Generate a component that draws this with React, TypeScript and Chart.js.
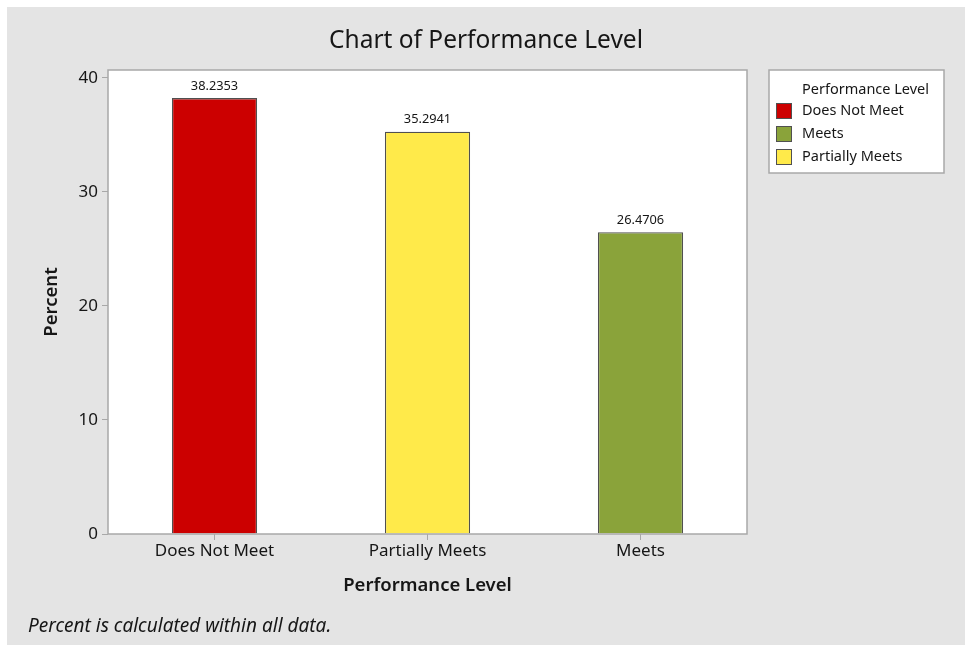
import React, { useEffect, useRef } from "react";
import { Chart, registerables } from "chart.js";

Chart.register(...registerables);

const categories = ["Does Not Meet", "Partially Meets", "Meets"];
const percents = [38.2353, 35.2941, 26.4706];
const barColors = ["#cc0000", "#ffea4a", "#8aa33a"];
const valueLabels = ["38.2353", "35.2941", "26.4706"];
const legendItems = ["Does Not Meet", "Meets", "Partially Meets"];
const legendColors = ["#cc0000", "#8aa33a", "#ffea4a"];
const yTicks = [0, 10, 20, 30, 40];

const FONT = "'Noto Sans', 'Open Sans', sans-serif";
const BG = "#e4e4e4";
const INK = "#161616";
const W = 958;
const H = 638;

const frame = {
  id: "frame",
  beforeDraw(chart: any) {
    const { ctx, chartArea: a } = chart;
    ctx.save();
    ctx.fillStyle = BG;
    ctx.fillRect(0, 0, chart.width, chart.height);
    ctx.fillStyle = "#ffffff";
    ctx.fillRect(a.left, a.top, a.right - a.left, a.bottom - a.top);
    ctx.restore();
  },
  afterDraw(chart: any) {
    const { ctx, chartArea: a } = chart;
    ctx.save();
    // plot outline
    ctx.strokeStyle = "#a8a8a8";
    ctx.lineWidth = 1.5;
    ctx.strokeRect(a.left, a.top, a.right - a.left, a.bottom - a.top);

    // title
    ctx.fillStyle = INK;
    ctx.textAlign = "center";
    ctx.textBaseline = "middle";
    ctx.font = `24.5px ${FONT}`;
    ctx.fillText("Chart of Performance Level", chart.width / 2, 34);

    // axis titles
    ctx.font = `600 18.5px ${FONT}`;
    ctx.fillText("Performance Level", (a.left + a.right) / 2, 579);
    ctx.save();
    ctx.translate(45, (a.top + a.bottom) / 2);
    ctx.rotate(-Math.PI / 2);
    ctx.fillText("Percent", 0, 0);
    ctx.restore();

    // footnote
    ctx.textAlign = "left";
    ctx.font = `italic 19px ${FONT}`;
    ctx.fillText("Percent is calculated within all data.", 21, 620);

    // value labels above bars
    const meta = chart.getDatasetMeta(0);
    ctx.textAlign = "center";
    ctx.font = `12.8px ${FONT}`;
    meta.data.forEach((bar: any, i: number) => {
      ctx.fillText(valueLabels[i], bar.x, bar.y - 12);
    });

    // legend box
    const lx = 762, ly = 63, lw = 175, lh = 103;
    ctx.fillStyle = "#ffffff";
    ctx.fillRect(lx, ly, lw, lh);
    ctx.strokeStyle = "#a8a8a8";
    ctx.lineWidth = 1.5;
    ctx.strokeRect(lx, ly, lw, lh);
    ctx.fillStyle = INK;
    ctx.font = `14.5px ${FONT}`;
    ctx.textAlign = "left";
    ctx.fillText("Performance Level", 795, 83);
    legendItems.forEach((label, i) => {
      const cy = 104 + i * 23;
      ctx.fillStyle = legendColors[i];
      ctx.fillRect(769, cy - 8, 16, 16);
      ctx.strokeStyle = "#505050";
      ctx.lineWidth = 1;
      ctx.strokeRect(769.5, cy - 7.5, 15, 15);
      ctx.fillStyle = INK;
      ctx.fillText(label, 795, cy);
    });
    ctx.restore();
  },
};

export default function App() {
  const ref = useRef<HTMLCanvasElement>(null);

  useEffect(() => {
    if (!ref.current) return;
    const chart = new Chart(ref.current, {
      type: "bar",
      data: {
        labels: categories,
        datasets: [
          {
            label: "Percent",
            data: percents,
            backgroundColor: barColors,
            borderColor: "#505050",
            borderWidth: 1.3,
            barPercentage: 0.4,
            categoryPercentage: 1,
          },
        ],
      },
      plugins: [frame],
      options: {
        responsive: false,
        animation: false,
        layout: { padding: { left: 0, top: 63, right: 218, bottom: 0 } },
        plugins: {
          legend: { display: false },
          title: { display: false },
          tooltip: { enabled: false },
        },
        scales: {
          x: {
            offset: true,
            grid: {
              offset: false,
              drawOnChartArea: false,
              drawTicks: true,
              tickLength: 6,
              color: "#a8a8a8",
            },
            border: { display: false },
            ticks: {
              color: INK,
              font: { family: FONT, size: 17 },
              padding: 1,
            },
            afterFit(scale: any) {
              scale.height = 111;
            },
          },
          y: {
            min: 0,
            max: 40.7,
            grid: {
              drawOnChartArea: false,
              drawTicks: true,
              tickLength: 6,
              color: "#a8a8a8",
            },
            border: { display: false },
            ticks: {
              color: INK,
              font: { family: FONT, size: 17 },
              padding: 4,
            },
            afterBuildTicks(scale: any) {
              scale.ticks = yTicks.map((v) => ({ value: v }));
            },
            afterFit(scale: any) {
              scale.width = 101;
            },
          },
        },
      },
    });
    return () => chart.destroy();
  }, []);

  return (
    <div
      style={{
        position: "fixed",
        left: 7,
        top: 7,
        width: W,
        height: H,
        background: BG,
      }}
    >
      <canvas ref={ref} width={W} height={H} style={{ display: "block" }} />
    </div>
  );
}
